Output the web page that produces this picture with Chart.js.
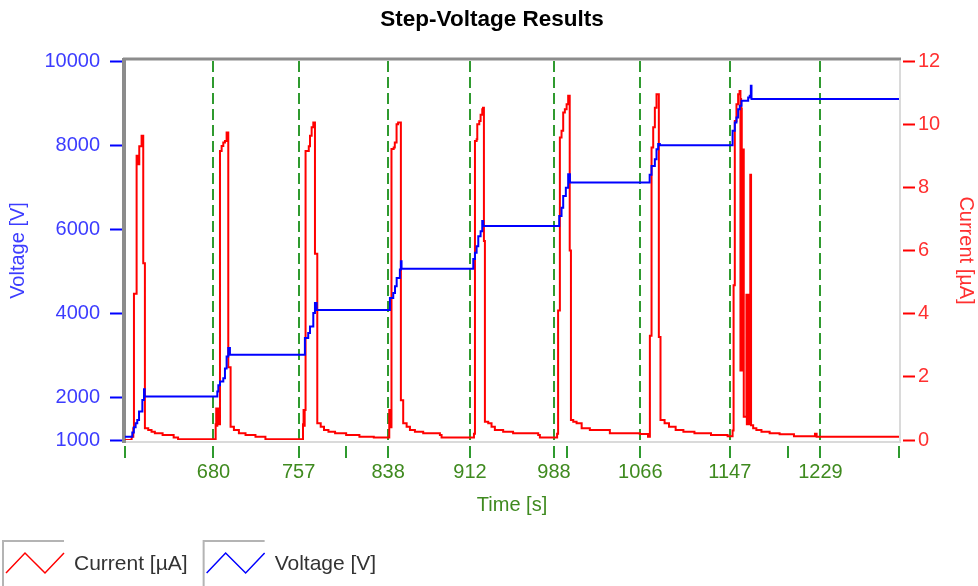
<!DOCTYPE html>
<html>
<head>
<meta charset="utf-8">
<script src="https://cdn.jsdelivr.net/npm/chart.js@4"></script>
<style>
  html, body { margin: 0; padding: 0; background: #fff; }
  #wrap { width: 978px; height: 586px; }
</style>
</head>
<body>
<div id="wrap"><canvas id="stepChart" width="978" height="586"></canvas></div>
<script>
// ====== DATA ======
const stepTimes = [680, 757, 838, 912, 988, 1066, 1147, 1229];
const xTickValues = [600, 680, 757, 800, 838, 912, 988, 1000, 1066, 1147, 1200, 1229, 1300];
const voltageTicks = [1000, 2000, 4000, 6000, 8000, 10000];

// voltage [V] vs time [s], each value holds until the next time
const voltageTime = [600, 606.6, 608, 609.6, 611.1, 612.7, 615.7, 617.2, 617.8,
  683.5, 684.4, 685.9, 688.9, 690.4, 691.9, 693.4, 694.9,
  762.7, 765.7, 767.3, 770.3, 771.8, 773.3,
  839.6, 842.6, 844.2, 845.7, 848.6, 849.5, 850.1,
  915, 916.5, 918, 919.5, 921.6, 923.1, 924,
  992.7, 994.8, 996.3, 998.7, 1000.8, 1002.4,
  1074.5, 1076.2, 1079.2, 1080.7, 1082.2, 1083.7,
  1149.5, 1151.5, 1153, 1154.5, 1156, 1157.6, 1163.6, 1165, 1166, 1166.6, 1300];
const voltageValue = [1080, 1180, 1300, 1398, 1476, 1674, 1952, 2207, 2031,
  2150, 2300, 2389, 2468, 2700, 2984, 3183, 3024,
  3421, 3540, 3698, 4016, 4254, 4085,
  4373, 4492, 4651, 4849, 5048, 5245, 5064,
  5300, 5444, 5603, 5841, 5960, 6198, 6079,
  6317, 6516, 6794, 6992, 7310, 7112,
  7300, 7508, 7667, 7905, 8030, 8000,
  8341, 8540, 8659, 8857, 8937, 9055, 9135, 9174, 9412, 9095, 9095];

// current [µA] vs time [s]
const currentTime = [600, 606, 607.5, 608.1, 610.5, 612, 612.9, 615, 616.5, 618, 621, 624, 627, 634, 644, 648,
  682, 682.5, 683, 683.5, 684.2, 685.9, 687.4, 688.9, 690.4, 691.9, 693.4, 695.5, 698.5, 703, 709, 718, 727,
  761, 761.5, 762, 762.5, 763.3, 766.2, 767.3, 768.8, 770.3, 771.8, 773.9, 777, 780, 784, 790, 800, 812, 825,
  839, 839.5, 840, 840.5, 841, 843, 844, 845.6, 847, 849.5, 851.6, 854.7, 857.7, 862.2, 869.7, 884.8, 886.3,
  915.6, 916.5, 918, 918.6, 920.4, 921.6, 923.1, 923.8, 924.6, 925.5, 928.5, 931.5, 934.5, 942, 951, 973.7, 975.2,
  990.8, 991.7, 993.3, 994.8, 996.3, 997.8, 999.4, 1000.8, 1002.2, 1003.3, 1005.4, 1008.4, 1013, 1020.4, 1038.5, 1065.6, 1073,
  1074.7, 1076.2, 1077.7, 1079.2, 1080.7, 1082.8, 1084.3, 1088, 1092, 1098, 1105, 1115, 1130, 1145,
  1149.5, 1150.4, 1151.5, 1153, 1154.5, 1155.8, 1156.6, 1156.9, 1157.2, 1157.5, 1157.8, 1158.4, 1159.6,
  1162, 1162.4, 1162.8, 1163.2, 1163.6, 1164.2, 1165.5, 1166.2, 1168.1, 1171, 1175.6, 1183, 1192, 1205,
  1224, 1225.5, 1300];
const currentValue = [0, 0.1, 0.37, 4.63, 9.0, 8.73, 9.3, 9.63, 5.6, 0.37, 0.32, 0.26, 0.21, 0.16, 0.08, 0.02,
  0.5, 1.0, 0.45, 1.0, 0.5, 9.15, 9.31, 9.42, 9.47, 9.74, 2.3, 0.42, 0.32, 0.21, 0.16, 0.1, 0.02,
  0.5, 0.95, 0.45, 0.95, 9.15, 9.3, 9.63, 9.9, 10.05, 5.9, 0.53, 0.42, 0.32, 0.26, 0.21, 0.16, 0.1, 0.08,
  0.95, 0.4, 0.95, 0.4, 9.21, 9.26, 9.42, 10.0, 10.05, 1.26, 0.53, 0.42, 0.32, 0.26, 0.21, 0.16, 0.08,
  0.2, 9.47, 9.52, 10.0, 10.1, 10.3, 10.47, 10.52, 6.3, 0.58, 0.53, 0.42, 0.32, 0.26, 0.21, 0.16, 0.08,
  0.2, 4.1, 9.58, 9.79, 10.37, 10.47, 10.63, 10.9, 6.0, 0.63, 0.58, 0.53, 0.37, 0.32, 0.21, 0.19, 0.1,
  3.3, 9.26, 9.9, 10.52, 10.95, 3.26, 0.63, 0.53, 0.42, 0.32, 0.26, 0.21, 0.16, 0.12,
  0.3, 4.9, 10.1, 10.63, 10.95, 11.05, 2.2, 10.8, 2.2, 10.5, 2.2, 9.2, 0.74,
  4.6, 0.5, 4.6, 0.5, 4.6, 0.5, 8.4, 0.47, 0.37, 0.32, 0.26, 0.21, 0.18, 0.12,
  0.2, 0.1, 0.1];

// ====== COLOURS ======
const RED = '#ff0000';
const BLUE = '#0000ff';
const RED_TEXT = '#ff3030';
const BLUE_TEXT = '#3c3cff';
const GREEN = '#2f9a2f';
const GREEN_TEXT = '#3f8a1f';
const FONT = '"Liberation Sans", Arial, sans-serif';

Chart.defaults.font.family = FONT;

function toPoints(times, values) {
    return times.map((t, i) => ({ x: t, y: values[i] }));
}

// ====== FRAME / TITLE / LEGEND ======
const framePlugin = {
    id: 'frame',
    beforeDatasetsDraw(chart) {
        const { ctx, chartArea: a } = chart;
        ctx.save();
        ctx.lineWidth = 2;
        ctx.strokeStyle = '#dadada';
        ctx.beginPath();
        ctx.moveTo(a.left, a.bottom + 2);
        ctx.lineTo(a.right + 1, a.bottom + 2);
        ctx.lineTo(a.right + 1, a.top);
        ctx.stroke();
        ctx.strokeStyle = '#8c8c8c';
        ctx.lineWidth = 3;
        ctx.beginPath();
        ctx.moveTo(a.left - 2, a.top - 2);
        ctx.lineTo(a.right + 2, a.top - 2);
        ctx.stroke();
        ctx.lineWidth = 4;
        ctx.beginPath();
        ctx.moveTo(a.left - 1, a.top - 3);
        ctx.lineTo(a.left - 1, a.bottom + 3);
        ctx.stroke();
        ctx.restore();
    },
    afterDraw(chart) {
        const { ctx } = chart;
        ctx.save();
        // title
        ctx.fillStyle = '#000';
        ctx.font = 'bold 22.5px ' + FONT;
        ctx.textAlign = 'center';
        ctx.textBaseline = 'middle';
        ctx.fillText('Step-Voltage Results', 492, 20);

        // legend: current first, then voltage
        const items = chart.data.datasets.slice().reverse();
        let x = 3;
        ctx.font = '21px ' + FONT;
        ctx.textAlign = 'left';
        items.forEach(ds => {
            ctx.strokeStyle = '#b4b4b4';
            ctx.lineWidth = 2;
            ctx.beginPath();
            ctx.moveTo(x, 586);
            ctx.lineTo(x, 541);
            ctx.lineTo(x + 61, 541);
            ctx.stroke();
            ctx.strokeStyle = ds.borderColor;
            ctx.lineWidth = 1.5;
            ctx.beginPath();
            ctx.moveTo(x + 3, 573);
            ctx.lineTo(x + 22, 553);
            ctx.lineTo(x + 42, 573);
            ctx.lineTo(x + 61, 553);
            ctx.stroke();
            ctx.fillStyle = '#333';
            ctx.fillText(ds.label, x + 71, 564);
            x += 71 + ctx.measureText(ds.label).width + 16;
        });
        ctx.restore();
    }
};

// ====== CHART ======
const ctx = document.getElementById('stepChart').getContext('2d');
const stepChart = new Chart(ctx, {
    type: 'line',
    data: {
        datasets: [
            { label: 'Voltage [V]', data: toPoints(voltageTime, voltageValue), borderColor: BLUE, borderWidth: 2, stepped: true, pointRadius: 0, yAxisID: 'yV' },
            { label: 'Current [µA]', data: toPoints(currentTime, currentValue), borderColor: RED, borderWidth: 2, stepped: true, pointRadius: 0, yAxisID: 'yI' }
        ]
    },
    options: {
        responsive: false,
        animation: false,
        events: [],
        layout: { padding: { top: 61, bottom: 65, left: 0, right: 0 } },
        plugins: { legend: { display: false }, tooltip: { enabled: false }, title: { display: false } },
        scales: {
            x: {
                type: 'linear', min: 600, max: 1300,
                afterBuildTicks: axis => { axis.ticks = xTickValues.map(v => ({ value: v })); },
                afterFit: s => { s.height = 81; },
                ticks: {
                    autoSkip: false, maxRotation: 0, padding: 2, color: GREEN_TEXT, font: { size: 20 },
                    callback: v => stepTimes.includes(v) ? String(v) : ''
                },
                grid: {
                    color: GREEN,
                    lineWidth: c => (c.tick && stepTimes.includes(c.tick.value)) ? 2 : 0,
                    tickColor: GREEN, tickWidth: 2, tickLength: 18,
                    tickBorderDash: [12, 6], tickBorderDashOffset: 12
                },
                border: { display: false, dash: [11, 5] },
                title: { display: true, text: 'Time [s]', color: GREEN_TEXT, font: { size: 20 }, padding: { top: 0, bottom: 4 } }
            },
            yV: {
                type: 'linear', position: 'left', min: 1000, max: 10000,
                afterBuildTicks: axis => { axis.ticks = voltageTicks.map(v => ({ value: v })); },
                afterFit: s => { s.width = 125; },
                ticks: { color: BLUE_TEXT, font: { size: 20 }, padding: 10, callback: v => String(v) },
                grid: { drawOnChartArea: false, tickColor: BLUE, tickWidth: 2, tickLength: 15 },
                border: { display: false },
                title: { display: true, text: 'Voltage [V]', color: BLUE_TEXT, font: { size: 20 }, padding: { top: 6, bottom: 0 } }
            },
            yI: {
                type: 'linear', position: 'right', min: 0, max: 12,
                afterFit: s => { s.width = 79; },
                ticks: { stepSize: 2, color: RED_TEXT, font: { size: 20 }, padding: 3 },
                grid: { drawOnChartArea: false, tickColor: RED, tickWidth: 2, tickLength: 16, tickBorderDash: [12, 4], tickBorderDashOffset: 12 },
                border: { display: false },
                title: { display: true, text: 'Current [µA]', color: RED_TEXT, font: { size: 20 }, padding: { top: 0, bottom: 0 } }
            }
        }
    },
    plugins: [framePlugin]
});
</script>
</body>
</html>
